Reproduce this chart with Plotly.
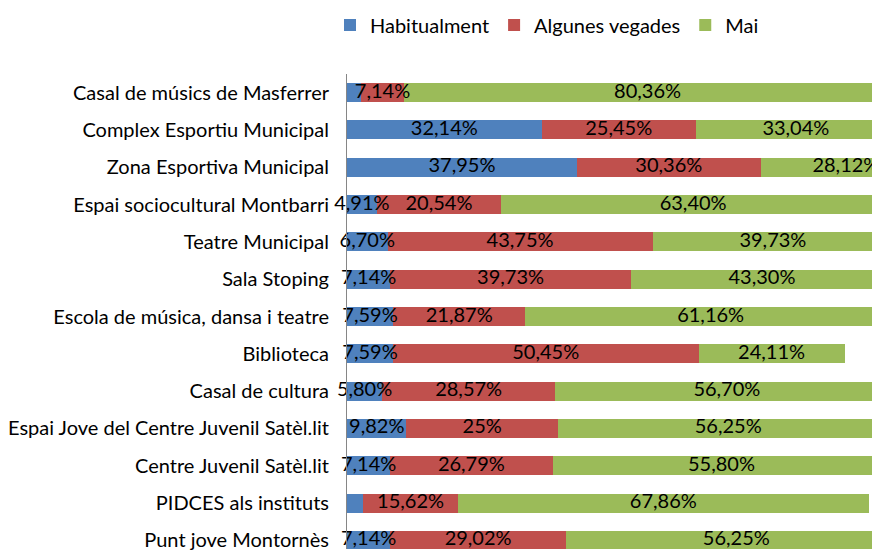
import plotly.graph_objects as go

categories = [
    "Casal de músics de Masferrer",
    "Complex Esportiu Municipal",
    "Zona Esportiva Municipal",
    "Espai sociocultural Montbarri",
    "Teatre Municipal",
    "Sala Stoping",
    "Escola de música, dansa i teatre",
    "Biblioteca",
    "Casal de cultura",
    "Espai Jove del Centre Juvenil Satèl.lit",
    "Centre Juvenil Satèl.lit",
    "PIDCES als instituts",
    "Punt jove Montornès",
]
habitualment = [2.3, 32.14, 37.95, 4.91, 6.70, 7.14, 7.59, 7.59, 5.80, 9.82, 7.14, 2.68, 7.14]
algunes_vegades = [7.14, 25.45, 30.36, 20.54, 43.75, 39.73, 21.87, 50.45, 28.57, 25, 26.79, 15.62, 29.02]
mai = [80.36, 33.04, 28.12, 63.40, 39.73, 43.30, 61.16, 24.11, 56.70, 56.25, 55.80, 67.86, 56.25]

series = [
    ("Habitualment", habitualment, "#4F81BD"),
    ("Algunes vegades", algunes_vegades, "#C0504D"),
    ("Mai", mai, "#9BBB59"),
]

FONT = "Lato"
FS = 20


def fmt(v):
    if abs(v - round(v)) < 1e-9:
        return f"{int(round(v))}%"
    return f"{v:.2f}".replace(".", ",") + "%"


fig = go.Figure()
base = [0.0] * len(categories)
text_traces = []
for name, vals, color in series:
    fig.add_trace(go.Bar(
        name=name, y=categories, x=vals, orientation="h",
        marker=dict(color=color, line=dict(width=0)),
        hoverinfo="skip",
    ))
    mids = [b + v / 2 for b, v in zip(base, vals)]
    labels = [fmt(v) if v >= 3 else "" for v in vals]
    text_traces.append(go.Scatter(
        x=mids, y=categories, mode="text", text=labels,
        textposition="middle center",
        textfont=dict(family=FONT, size=FS, color="#000000"),
        showlegend=False, cliponaxis=False, hoverinfo="skip",
    ))
    base = [b + v for b, v in zip(base, vals)]

for t in text_traces:
    fig.add_trace(t)

# page body has an 8px margin, so the figure is sized to fill the window
W, H = 872, 543
fig.update_layout(
    width=W, height=H,
    margin=dict(l=338, r=0, t=66, b=0),
    paper_bgcolor="white", plot_bgcolor="white",
    barmode="stack", bargap=0.49,
    font=dict(family=FONT, size=FS, color="#000000"),
    showlegend=True,
    legend=dict(
        orientation="h", traceorder="normal",
        xref="container", yref="container",
        x=322 / W, xanchor="left", y=1 - 17 / H, yanchor="middle",
        font=dict(family=FONT, size=FS, color="#000000"),
        itemwidth=30,
    ),
    xaxis=dict(range=[0, 88], showgrid=False, zeroline=False,
               showline=False, showticklabels=False, fixedrange=True),
    yaxis=dict(categoryorder="array", categoryarray=categories,
               range=[12.23, -0.5], showgrid=False, zeroline=False,
               showline=True, linecolor="#868686", linewidth=1,
               ticks="", ticklabelstandoff=13,
               tickfont=dict(family=FONT, size=FS, color="#000000")),
)

fig.write_html("out.html")
